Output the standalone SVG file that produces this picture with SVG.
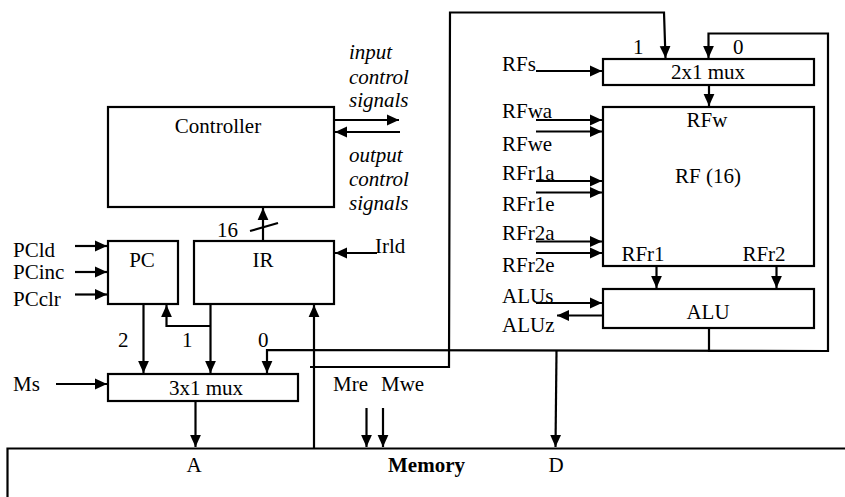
<svg xmlns="http://www.w3.org/2000/svg" width="845" height="497" viewBox="0 0 845 497">
<style>
text{font-family:"Liberation Serif","Times New Roman",serif;font-size:21px;fill:#000}
.c{text-anchor:middle}
.i{font-style:italic}
.b{font-weight:bold}
.box{fill:#fff;stroke:#000;stroke-width:2.2}
.w{fill:none;stroke:#000;stroke-width:2.2}
.a{fill:none;stroke:#000;stroke-width:2.2;marker-end:url(#ah)}
</style>
<defs>
<marker id="ah" viewBox="0 0 10 10" refX="10" refY="5" markerWidth="12" markerHeight="12" markerUnits="userSpaceOnUse" orient="auto">
<path d="M0,0.5 L10,5 L0,9.5 z" fill="#000"/>
</marker>
</defs>
<rect width="845" height="497" fill="#fff"/>

<g id="connectors">
<line class="a" x1="333" y1="120" x2="399" y2="120"/>
<line class="a" x1="400" y1="132" x2="335" y2="132"/>
<line class="a" x1="263" y1="241" x2="263" y2="208"/>
<line class="w" x1="250" y1="231" x2="278" y2="223"/>
<line class="a" x1="75" y1="246" x2="107" y2="246"/>
<line class="a" x1="75" y1="272" x2="107" y2="272"/>
<line class="a" x1="75" y1="294.5" x2="107" y2="294.5"/>
<line class="a" x1="377" y1="253" x2="335" y2="253"/>
<line class="a" x1="143.5" y1="304" x2="143.5" y2="373"/>
<line class="a" x1="210.5" y1="304" x2="210.5" y2="373"/>
<polyline class="a" points="210.5,326 166.5,326 166.5,305"/>
<polyline class="a" points="828,351 267,350 267,373"/>
<line class="a" x1="56" y1="384" x2="107" y2="384"/>
<line class="a" x1="195.5" y1="401" x2="195.5" y2="447"/>
<line class="a" x1="314" y1="448" x2="314" y2="305"/>
<line class="a" x1="366.5" y1="408" x2="366.5" y2="447"/>
<line class="a" x1="383" y1="408" x2="383" y2="447"/>
<polyline class="a" points="310,367 449,367 450,12.5 664,12.5 665.5,58"/>
<polyline class="a" points="709,328 709,351 828,351 828,33.5 708.5,33.5 708.5,58"/>
<line class="a" x1="556.5" y1="351" x2="555.5" y2="447"/>
<line class="a" x1="536" y1="71" x2="602" y2="71"/>
<line class="a" x1="709" y1="85" x2="709" y2="106"/>
<line class="a" x1="536" y1="120" x2="602" y2="120"/>
<line class="a" x1="536" y1="131.5" x2="602" y2="131.5"/>
<line class="a" x1="536" y1="181" x2="602" y2="181"/>
<line class="a" x1="536" y1="192.5" x2="602" y2="192.5"/>
<line class="a" x1="536" y1="241.5" x2="602" y2="241.5"/>
<line class="a" x1="536" y1="253" x2="602" y2="253"/>
<line class="a" x1="656.5" y1="266" x2="656.5" y2="288"/>
<line class="a" x1="776.5" y1="266" x2="776.5" y2="288"/>
<line class="a" x1="536" y1="303" x2="602" y2="303"/>
<line class="a" x1="603" y1="315.5" x2="557" y2="315.5"/>
</g>

<g id="controller">
<rect class="box" x="108" y="107" width="226" height="100"/>
<text class="c" x="218" y="133">Controller</text>
</g>
<g id="io-labels">
<text class="i" x="349" y="59">input</text>
<text class="i" x="349" y="84">control</text>
<text class="i" x="349" y="107">signals</text>
<text class="i" x="349" y="162">output</text>
<text class="i" x="349" y="186">control</text>
<text class="i" x="349" y="210">signals</text>
</g>
<g id="bus-width"><text x="217" y="237">16</text></g>

<g id="pc">
<rect class="box" x="108" y="241" width="70" height="63"/>
<text class="c" x="142" y="267">PC</text>
</g>
<g id="pc-signals">
<text x="13" y="257">PCld</text>
<text x="13" y="279">PCinc</text>
<text x="13" y="306">PCclr</text>
</g>
<g id="ir">
<rect class="box" x="194" y="241" width="140" height="63"/>
<text class="c" x="263" y="267">IR</text>
<text x="375" y="253">Irld</text>
</g>

<g id="mux3">
<rect class="box" x="108" y="374" width="190" height="27"/>
<text class="c" x="206" y="395">3x1 mux</text>
<text x="118" y="347">2</text>
<text x="182" y="347">1</text>
<text x="258" y="347">0</text>
<text x="13" y="391">Ms</text>
</g>

<g id="memory">
<path class="w" d="M7.5,498 V448.5 H846"/>
<text class="c" x="194" y="472">A</text>
<text class="b" x="388" y="472">Memory</text>
<text class="c" x="556" y="472">D</text>
<text x="333" y="391">Mre</text>
<text x="381" y="391">Mwe</text>
</g>

<g id="mux2">
<rect class="box" x="603" y="59" width="211" height="26"/>
<text class="c" x="708" y="79">2x1 mux</text>
<text x="633" y="54">1</text>
<text x="733" y="54">0</text>
<text x="502" y="71">RFs</text>
</g>

<g id="rf">
<rect class="box" x="603" y="107" width="211" height="159"/>
<text class="c" x="707" y="127">RFw</text>
<text class="c" x="708" y="183">RF (16)</text>
<text class="c" x="643" y="261">RFr1</text>
<text class="c" x="764" y="261">RFr2</text>
</g>
<g id="rf-signals">
<text x="502" y="118">RFwa</text>
<text x="502" y="151">RFwe</text>
<text x="502" y="180">RFr1a</text>
<text x="502" y="211">RFr1e</text>
<text x="502" y="240">RFr2a</text>
<text x="502" y="272">RFr2e</text>
<text x="502" y="303">ALUs</text>
<text x="502" y="332">ALUz</text>
</g>

<g id="alu">
<rect class="box" x="603" y="289" width="211" height="39"/>
<text class="c" x="708" y="319">ALU</text>
</g>
</svg>
